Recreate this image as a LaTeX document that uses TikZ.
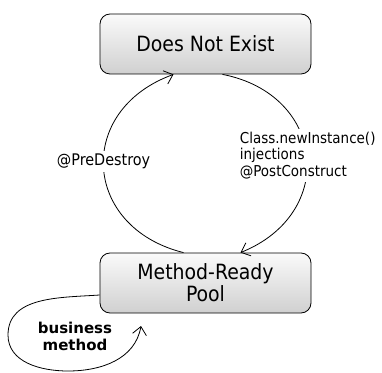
\documentclass[tikz,border=0pt]{standalone}
\usepackage{fontspec}
\setmainfont{DejaVu Sans Condensed}
\newfontfamily\bizfont{DejaVu Sans}
\usepackage{xcolor}
\usepackage{tikz}
\usetikzlibrary{arrows.meta}
\definecolor{statetop}{RGB}{250,250,250}
\definecolor{statebot}{RGB}{208,208,208}

\begin{document}
\begin{tikzpicture}[x=1pt, y=1pt,
    state/.style={draw, thick, rounded corners=10pt, minimum width=211pt, minimum height=60pt,
      top color=statetop, bottom color=statebot, align=center, font=\fontsize{21}{22}\selectfont},
    trans/.style={thick, looseness=1.5, -{Straight Barb[length=8pt, width=14pt]}},
    lbl/.style={fill=white, font=\fontsize{16}{17}\selectfont, inner sep=3pt}]
  \useasboundingbox (0,0) rectangle (382,372);
  \node[state] (dne) at (205.5,328) {Does Not Exist};
  \node[state] (pool) at (205.5,89) {Method-Ready\\Pool};
  % pool -> does not exist
  \draw[trans] ([xshift=-22pt]pool.north) to[out=166, in=200]
    node[lbl, pos=0.5, yshift=6pt] {@PreDestroy} ([xshift=-32pt]dne.south);
  % does not exist -> pool
  \draw[trans] ([xshift=17pt]dne.south) to[out=-11, in=22]
    node[lbl, pos=0.5, align=left, xshift=1pt, yshift=1pt, font=\fontsize{15}{16.5}\selectfont]
      {Class.newInstance()\\injections\\@PostConstruct} ([xshift=35pt]pool.north);
  % business method loop
  \coordinate (loopleft) at (8,37);
  \coordinate (loopbot) at (68,1);
  \coordinate (looptip) at (141,46);
  \draw[trans, looseness=1] ([yshift=-12pt]pool.west) to[out=184, in=90] (loopleft)
    to[out=-90, in=180] (loopbot) to[out=0, in=-100] (looptip);
  \node[font=\bizfont\bfseries\fontsize{15}{17}\selectfont, align=center] (biz) at (75,36) {business\\method};
\end{tikzpicture}
\end{document}
